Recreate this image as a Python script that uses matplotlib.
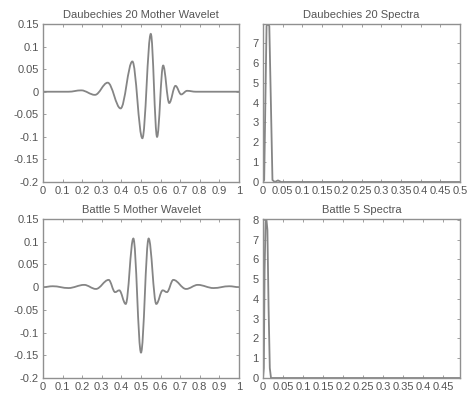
import matplotlib
matplotlib.use("Agg")
import matplotlib.pyplot as plt
from matplotlib.path import Path
from matplotlib.patches import PathPatch

# ---------------- data ----------------
# Daubechies 20 mother wavelet: successive extrema (x, y)
db_x = [0.0, 0.13, 0.195, 0.265, 0.330, 0.396, 0.456, 0.507, 0.550, 0.582,
        0.613, 0.644, 0.676, 0.705, 0.735, 0.78, 1.0]
db_y = [0.0, 0.0, 0.003, -0.007, 0.020, -0.037, 0.067, -0.103, 0.128, -0.100,
        0.058, -0.025, 0.013, -0.006, 0.002, 0.0, 0.0]

# Battle 5 mother wavelet: successive extrema (x, y)
bt_x = [0.0, 0.05, 0.13, 0.21, 0.27, 0.335, 0.368, 0.389, 0.422, 0.461, 0.500,
        0.539, 0.578, 0.611, 0.632, 0.665, 0.73, 0.79, 0.87, 0.95, 1.0]
bt_y = [0.0, 0.002, -0.002, 0.005, -0.004, 0.016, -0.011, -0.007, -0.037, 0.107, -0.144,
        0.107, -0.037, -0.007, -0.011, 0.016, -0.004, 0.005, -0.002, 0.002, 0.0]

# Daubechies 20 spectrum
db_f = [0.0, 0.003, 0.006, 0.009, 0.0125, 0.016, 0.020, 0.024, 0.030, 0.038, 0.046, 0.054, 0.5]
db_s = [0.0, 0.1, 4.0, 7.85, 7.95, 7.85, 4.0, 0.1, 0.0, 0.08, 0.0, 0.0, 0.0]

# Battle 5 spectrum
bt_f = [0.0, 0.002, 0.004, 0.0065, 0.0085, 0.011, 0.014, 0.017, 0.020, 0.4922]
bt_s = [0.0, 0.5, 5.5, 7.9, 8.05, 7.5, 3.5, 0.5, 0.0, 0.0]

wav_xticks = [0, 0.1, 0.2, 0.3, 0.4, 0.5, 0.6, 0.7, 0.8, 0.9, 1]
wav_xlabels = ['0', '0.1', '0.2', '0.3', '0.4', '0.5', '0.6', '0.7', '0.8', '0.9', '1']
wav_yticks = [-0.2, -0.15, -0.1, -0.05, 0, 0.05, 0.1, 0.15]
wav_ylabels = ['-0.2', '-0.15', '-0.1', '-0.05', '0', '0.05', '0.1', '0.15']
spec_xticks = [0, 0.05, 0.1, 0.15, 0.2, 0.25, 0.3, 0.35, 0.4, 0.45, 0.5]
spec_xlabels = ['0', '0.05', '0.1', '0.15', '0.2', '0.25', '0.3', '0.35', '0.4', '0.45', '0.5']

titles = ['Daubechies 20 Mother Wavelet', 'Daubechies 20 Spectra',
          'Battle 5 Mother Wavelet', 'Battle 5 Spectra']

# ---------------- style ----------------
LINE = '#858585'
FRAME = '#909090'
TEXT = '#555555'
plt.rcParams['font.family'] = ['Liberation Sans', 'DejaVu Sans']
plt.rcParams['font.size'] = 8

W, H = 469, 393
fig = plt.figure(figsize=(W / 100, H / 100), dpi=100)

def ax_at(x0, y0, x1, y1):
    return fig.add_axes([x0 / W, 1 - y1 / H, (x1 - x0) / W, (y1 - y0) / H])

axes = [ax_at(43, 24, 239, 182), ax_at(263, 24, 460, 182),
        ax_at(43, 219, 239, 378), ax_at(263, 219, 460, 378)]

def smooth_curve(ax, xs, ys):
    # smooth curve through the extrema with horizontal tangents (Bezier)
    k = 0.364
    verts = [(xs[0], ys[0])]
    codes = [Path.MOVETO]
    for i in range(len(xs) - 1):
        dx = xs[i + 1] - xs[i]
        verts += [(xs[i] + k * dx, ys[i]), (xs[i + 1] - k * dx, ys[i + 1]), (xs[i + 1], ys[i + 1])]
        codes += [Path.CURVE4] * 3
    ax.add_patch(PathPatch(Path(verts, codes), facecolor='none', edgecolor=LINE, lw=1.3))

def style(ax, title):
    for s in ax.spines.values():
        s.set_color(FRAME)
        s.set_linewidth(1.0)
    ax.tick_params(direction='in', length=2.5, width=0.6, color=FRAME,
                   top=True, right=True, labelcolor=TEXT, labelsize=8, pad=3)
    ax.set_title(title, fontsize=8, color=TEXT, pad=4)

smooth_curve(axes[0], db_x, db_y)
smooth_curve(axes[2], bt_x, bt_y)
for a in (axes[0], axes[2]):
    a.set_xlim(0, 1)
    a.set_ylim(-0.2, 0.15)
    a.set_xticks(wav_xticks, wav_xlabels)
    a.set_yticks(wav_yticks, wav_ylabels)

axes[1].plot(db_f, db_s, color=LINE, lw=1.3)
axes[1].set_xlim(0, 0.5)
axes[1].set_ylim(0, max(db_s))
axes[1].set_xticks(spec_xticks, spec_xlabels)
axes[1].set_yticks(range(0, 8), [str(v) for v in range(0, 8)])

axes[3].plot(bt_f, bt_s, color=LINE, lw=1.3)
axes[3].set_xlim(0, max(bt_f))
axes[3].set_ylim(0, max(bt_s))
axes[3].set_xticks(spec_xticks[:-1], spec_xlabels[:-1])
axes[3].set_yticks(range(0, 9), [str(v) for v in range(0, 9)])

for a, t in zip(axes, titles):
    style(a, t)

fig.savefig('out.png', dpi=100, facecolor='white')
